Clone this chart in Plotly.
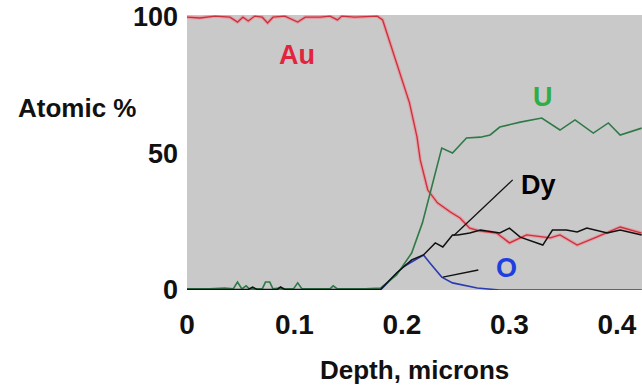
import plotly.graph_objects as go

# ---- data ----
au_depth = [0.0, 0.012, 0.026, 0.040, 0.047, 0.052, 0.057, 0.063, 0.070, 0.075, 0.080, 0.091,
            0.103, 0.110, 0.124, 0.133, 0.140, 0.144, 0.156, 0.170, 0.177, 0.182, 0.198, 0.207,
            0.214, 0.217, 0.224, 0.233, 0.245, 0.254, 0.263, 0.273, 0.288, 0.300, 0.316, 0.338,
            0.347, 0.363, 0.381, 0.403, 0.423]
au_pct = [99.6, 99.3, 100.0, 99.6, 97.8, 99.6, 98.2, 100.0, 99.6, 97.5, 99.6, 100.0,
          97.8, 99.6, 99.6, 100.0, 98.6, 100.0, 99.6, 100.0, 100.0, 98.6, 79.2, 68.3,
          55.8, 47.5, 36.5, 31.8, 28.5, 26.3, 22.6, 21.5, 20.8, 17.2, 20.1, 19.0,
          20.1, 16.4, 19.3, 23.0, 20.8]

u_depth = [0.0, 0.021, 0.035, 0.043, 0.047, 0.051, 0.055, 0.058, 0.070, 0.073, 0.077, 0.080,
           0.086, 0.091, 0.099, 0.103, 0.107, 0.124, 0.133, 0.136, 0.140, 0.152, 0.166, 0.180,
           0.195, 0.209, 0.219, 0.237, 0.247, 0.260, 0.273, 0.282, 0.291, 0.310, 0.330, 0.347,
           0.361, 0.378, 0.392, 0.403, 0.423]
u_pct = [0.4, 0.4, 0.7, 0.4, 2.9, 0.4, 1.5, 0.4, 0.4, 2.9, 2.9, 0.4,
         0.7, 0.4, 0.4, 2.6, 0.4, 0.4, 0.4, 1.5, 0.4, 0.4, 0.4, 0.7,
         5.5, 13.5, 24.5, 51.8, 50.0, 55.5, 55.8, 56.6, 59.5, 61.3, 62.8, 58.4,
         62.1, 57.3, 61.0, 56.6, 59.1]

dy_depth = [0.0, 0.030, 0.057, 0.061, 0.065, 0.084, 0.087, 0.091, 0.130, 0.180, 0.195, 0.209,
            0.220, 0.231, 0.238, 0.247, 0.252, 0.263, 0.273, 0.291, 0.300, 0.310, 0.331, 0.340,
            0.353, 0.363, 0.372, 0.391, 0.403, 0.423]
dy_pct = [0.2, 0.2, 0.2, 1.1, 0.2, 0.2, 1.1, 0.2, 0.2, 0.2, 6.2, 11.0,
          12.8, 17.2, 15.7, 20.1, 20.1, 20.8, 21.9, 20.8, 22.6, 19.3, 16.4, 21.9,
          21.9, 21.2, 22.6, 20.8, 21.9, 20.1]

o_depth = [0.0, 0.180, 0.201, 0.220, 0.226, 0.237, 0.247, 0.270, 0.291, 0.423]
o_pct = [0.0, 0.0, 8.4, 12.8, 9.9, 4.7, 2.6, 0.7, 0.0, 0.0]

x_ticks = [0, 0.1, 0.2, 0.3, 0.4]
x_tick_text = ["0", "0.1", "0.2", "0.3", "0.4"]
y_ticks = [0, 50, 100]
y_tick_text = ["0", "50", "100"]

labels = ["Au", "U", "Dy", "O"]
label_x = [0.102, 0.331, 0.327, 0.297]
label_y = [85.8, 70.4, 38.3, 8.0]
label_colors = ["#e3243e", "#2fae47", "#000000", "#1d3fe0"]

# leader lines: (x0, y0, x1, y1)
dy_leader = [0.303, 40.2, 0.248, 19.8]
o_leader = [0.271, 7.3, 0.238, 4.7]

FONT = "Liberation Sans, Arial, sans-serif"

fig = go.Figure()
fig.add_trace(go.Scatter(x=o_depth, y=o_pct, mode="lines",
                         line=dict(color="#2a3cb0", width=1.6), hoverinfo="skip"))
fig.add_trace(go.Scatter(x=au_depth, y=au_pct, mode="lines",
                         line=dict(color="rgba(240,140,150,0.7)", width=3.5), hoverinfo="skip"))
fig.add_trace(go.Scatter(x=au_depth, y=au_pct, mode="lines",
                         line=dict(color="#c8303c", width=1.3), hoverinfo="skip"))
fig.add_trace(go.Scatter(x=u_depth, y=u_pct, mode="lines",
                         line=dict(color="#2f7a48", width=1.6), hoverinfo="skip"))
fig.add_trace(go.Scatter(x=dy_depth, y=dy_pct, mode="lines",
                         line=dict(color="#111111", width=1.5), hoverinfo="skip"))

for ld in (dy_leader, o_leader):
    fig.add_shape(type="line", xref="x", yref="y", x0=ld[0], y0=ld[1], x1=ld[2], y1=ld[3],
                  line=dict(color="#111111", width=1.3))

for t, lx, ly, c in zip(labels, label_x, label_y, label_colors):
    fig.add_annotation(x=lx, y=ly, xref="x", yref="y", text=t, showarrow=False,
                       font=dict(family=FONT, size=27, color=c, weight="bold"))

fig.add_annotation(x=-0.2418, y=0.662, xref="paper", yref="paper", text="Atomic %",
                   showarrow=False, xanchor="center", yanchor="middle",
                   font=dict(family=FONT, size=26, color="#111111", weight="bold"))
fig.add_annotation(x=0.50, y=-0.29, xref="paper", yref="paper", text="Depth, microns",
                   showarrow=False, xanchor="center", yanchor="middle",
                   font=dict(family=FONT, size=26, color="#111111", weight="bold"))

fig.update_layout(
    width=642, height=389,
    margin=dict(l=187, r=0, t=15, b=99),
    paper_bgcolor="white", plot_bgcolor="#c9c9c9",
    showlegend=False,
    xaxis=dict(range=[0, 0.4233], tickvals=x_ticks, ticktext=x_tick_text,
               showgrid=False, zeroline=False, showline=False, ticks="",
               tickfont=dict(family=FONT, size=28, color="#111111", weight="bold"),
               ticklabelstandoff=15),
    yaxis=dict(range=[0, 100.4], tickvals=y_ticks, ticktext=y_tick_text,
               showgrid=False, zeroline=False, showline=False, ticks="",
               tickfont=dict(family=FONT, size=27, color="#111111", weight="bold"),
               ticklabelstandoff=8),
)

fig.write_html("out.html")
